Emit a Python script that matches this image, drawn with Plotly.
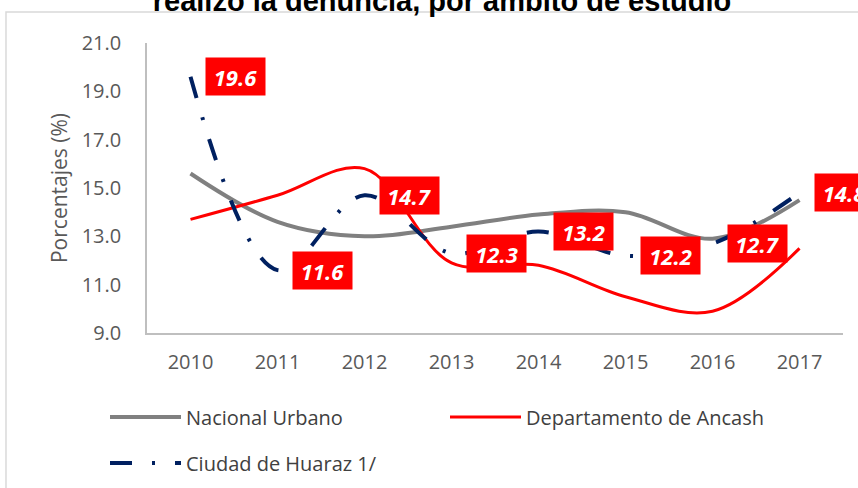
import plotly.graph_objects as go

years = ["2010", "2011", "2012", "2013", "2014", "2015", "2016", "2017"]
nacional_urbano = [15.6, 13.6, 13.0, 13.4, 13.9, 14.0, 12.9, 14.5]
dep_ancash = [13.7, 14.7, 15.8, 11.9, 11.8, 10.5, 9.9, 12.5]
ciudad_huaraz = [19.6, 11.6, 14.7, 12.3, 13.2, 12.2, 12.7, 14.8]
y_ticks = [9.0, 11.0, 13.0, 15.0, 17.0, 19.0, 21.0]

title_text = "realizó la denuncia, por ámbito de estudio"

FONT = "Open Sans, Lato, sans-serif"

fig = go.Figure()
fig.add_trace(go.Scatter(
    x=years, y=nacional_urbano, name="Nacional Urbano", mode="lines",
    line=dict(color="#808080", width=4, shape="spline", smoothing=1.0),
    legend="legend",
))
fig.add_trace(go.Scatter(
    x=years, y=dep_ancash, name="Departamento de Ancash", mode="lines",
    line=dict(color="#ff0000", width=3, shape="spline", smoothing=1.0),
    legend="legend",
))
fig.add_trace(go.Scatter(
    x=years, y=ciudad_huaraz, name="Ciudad de Huaraz 1/", mode="lines",
    line=dict(color="#002060", width=4, shape="spline", smoothing=1.0,
              dash="22px,20px,3px,20px"),
    legend="legend2",
))

annotations = []
for i, yv in enumerate(ciudad_huaraz):
    annotations.append(dict(
        x=i, y=yv, xref="x", yref="y", text=f"<b><i>{yv:.1f}</i></b>",
        showarrow=False, xshift=45, bgcolor="#ff0000",
        width=49, height=27, borderpad=5, xanchor="center", yanchor="middle",
        font=dict(family=FONT, size=22, color="white"),
    ))

# outer chart border
shapes = [dict(type="rect", xref="paper", yref="paper",
               x0=-0.2026, x1=1.3, y0=-1.0, y1=1.107,
               line=dict(color="#d9d9d9", width=1.5), layer="below")]

fig.update_layout(
    width=858, height=488,
    margin=dict(l=147, r=15, t=43, b=155),
    paper_bgcolor="white", plot_bgcolor="white",
    annotations=annotations,
    shapes=shapes,
    title=dict(text=f"<b>{title_text}</b>", x=442 / 858, xanchor="center",
               y=0.999, yanchor="middle", yref="container",
               font=dict(family="Liberation Sans, Arial, sans-serif", size=29, color="black")),
    xaxis=dict(
        type="category", range=[-0.5, 7.5], showgrid=False, zeroline=False,
        showline=True, linecolor="#bfbfbf", linewidth=1.5, automargin=False,
        ticks="outside", ticklen=10, tickcolor="rgba(0,0,0,0)",
        tickfont=dict(family=FONT, size=20, color="#595959"),
    ),
    yaxis=dict(
        range=[9, 21], tickvals=y_ticks, tickformat=".1f", showgrid=False,
        zeroline=False, showline=True, linecolor="#bfbfbf", linewidth=1.5,
        automargin=False,
        ticks="outside", ticklen=20, tickcolor="rgba(0,0,0,0)",
        tickfont=dict(family=FONT, size=20, color="#595959"),
        title=dict(text="Porcentajes (%)", standoff=8,
                   font=dict(family=FONT, size=21, color="#595959")),
    ),
    legend=dict(
        orientation="h", xref="container", yref="container",
        x=105 / 858, y=1 - 417 / 488, xanchor="left", yanchor="middle",
        entrywidth=254, entrywidthmode="pixels", itemwidth=71,
        font=dict(family=FONT, size=20, color="#404040"),
        bgcolor="rgba(0,0,0,0)",
    ),
    legend2=dict(
        orientation="h", xref="container", yref="container",
        x=105 / 858, y=1 - 463 / 488, xanchor="left", yanchor="middle",
        itemwidth=71,
        font=dict(family=FONT, size=20, color="#404040"),
        bgcolor="rgba(0,0,0,0)",
    ),
    showlegend=True,
)

fig.write_html("out.html",
               config={"displayModeBar": False},
               post_script="document.body.style.margin='0';document.body.style.overflow='hidden';")
